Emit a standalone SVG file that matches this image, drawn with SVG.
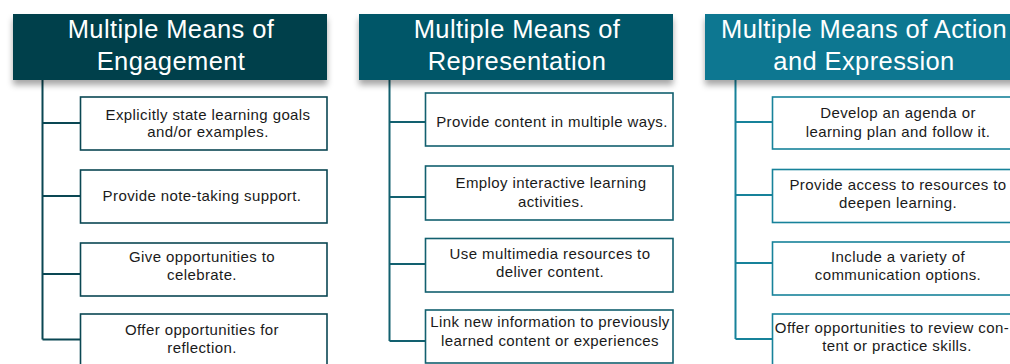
<svg xmlns="http://www.w3.org/2000/svg" width="1010" height="364" viewBox="0 0 1010 364">
<defs>
<filter id="sh" x="-10%" y="-20%" width="120%" height="160%">
<feDropShadow dx="0" dy="5" stdDeviation="3" flood-color="#000" flood-opacity="0.35"/>
</filter>
<style>
.hd{font-family:"Liberation Sans",Arial,sans-serif;font-size:25.5px;letter-spacing:0.4px;fill:#fff;text-anchor:middle}
.bx{fill:#fff;stroke-width:1.6}
.tx{font-family:"Liberation Sans",Arial,sans-serif;font-size:15px;letter-spacing:0.4px;fill:#1a1a1a;text-anchor:middle}
.c1{stroke:#0a4753}
.c2{stroke:#12606f}
.c3{stroke:#17829a}
.ln{fill:none;stroke-width:2}
</style>
</defs>
<rect width="1010" height="364" fill="#fff"/>
<g id="connectors">
<path class="ln c1" d="M42.5 80V339.5M42.5 123H80M42.5 196H80M42.5 274H80M42.5 339.5H80"/>
<path class="ln c2" d="M389.5 80V341M389.5 122H425M389.5 197H425M389.5 264H425M389.5 341H425"/>
<path class="ln c3" d="M735.5 80V339M735.5 122H772M735.5 195H772M735.5 263H772M735.5 339H772"/>
</g>
<g id="h1"><rect x="13" y="14" width="314" height="66" fill="#013f4b" filter="url(#sh)"/><text class="hd" x="171" y="38">Multiple Means of</text><text class="hd" x="171" y="70">Engagement</text></g>
<g id="h2"><rect x="359" y="14" width="314" height="66" fill="#055767" filter="url(#sh)"/><text class="hd" x="517" y="38">Multiple Means of</text><text class="hd" x="517" y="70">Representation</text></g>
<g id="h3"><rect x="705" y="14" width="318" height="66" fill="#077791" filter="url(#sh)"/><text class="hd" x="864" y="38">Multiple Means of Action</text><text class="hd" x="864" y="70">and Expression</text></g>

<g id="e1"><rect class="bx c1" x="80.5" y="97" width="246.5" height="53"/><text class="tx" x="208" y="120">Explicitly state learning goals</text><text class="tx" x="208" y="137">and/or examples.</text></g>
<g id="e2"><rect class="bx c1" x="80.5" y="170" width="246.5" height="53"/><text class="tx" x="202" y="201">Provide note-taking support.</text></g>
<g id="e3"><rect class="bx c1" x="80.5" y="243" width="246.5" height="53"/><text class="tx" x="202" y="262">Give opportunities to</text><text class="tx" x="202" y="280">celebrate.</text></g>
<g id="e4"><rect class="bx c1" x="80.5" y="314" width="246.5" height="60"/><text class="tx" x="202" y="335">Offer opportunities for</text><text class="tx" x="202" y="353">reflection.</text></g>

<g id="r1"><rect class="bx c2" x="425.5" y="93" width="247.5" height="53"/><text class="tx" x="552" y="127">Provide content in multiple ways.</text></g>
<g id="r2"><rect class="bx c2" x="425.5" y="166" width="247.5" height="54"/><text class="tx" x="551" y="188">Employ interactive learning</text><text class="tx" x="551" y="207">activities.</text></g>
<g id="r3"><rect class="bx c2" x="425.5" y="238.5" width="247.5" height="53.5"/><text class="tx" x="550" y="259">Use multimedia resources to</text><text class="tx" x="550" y="277">deliver content.</text></g>
<g id="r4"><rect class="bx c2" x="425.5" y="310" width="247.5" height="53"/><text class="tx" x="550" y="327">Link new information to previously</text><text class="tx" x="550" y="346">learned content or experiences</text></g>

<g id="a1"><rect class="bx c3" x="772.5" y="97" width="250" height="52"/><text class="tx" x="898" y="118">Develop an agenda or</text><text class="tx" x="898" y="137">learning plan and follow it.</text></g>
<g id="a2"><rect class="bx c3" x="772.5" y="169.5" width="250" height="53"/><text class="tx" x="898" y="190">Provide access to resources to</text><text class="tx" x="898" y="208">deepen learning.</text></g>
<g id="a3"><rect class="bx c3" x="772.5" y="242" width="250" height="53"/><text class="tx" x="898" y="262">Include a variety of</text><text class="tx" x="898" y="280">communication options.</text></g>
<g id="a4"><rect class="bx c3" x="772.5" y="314" width="250" height="60"/><text class="tx" x="892" y="333" letter-spacing="0.2">Offer opportunities to review con-</text><text class="tx" x="897" y="351">tent or practice skills.</text></g>
</svg>
